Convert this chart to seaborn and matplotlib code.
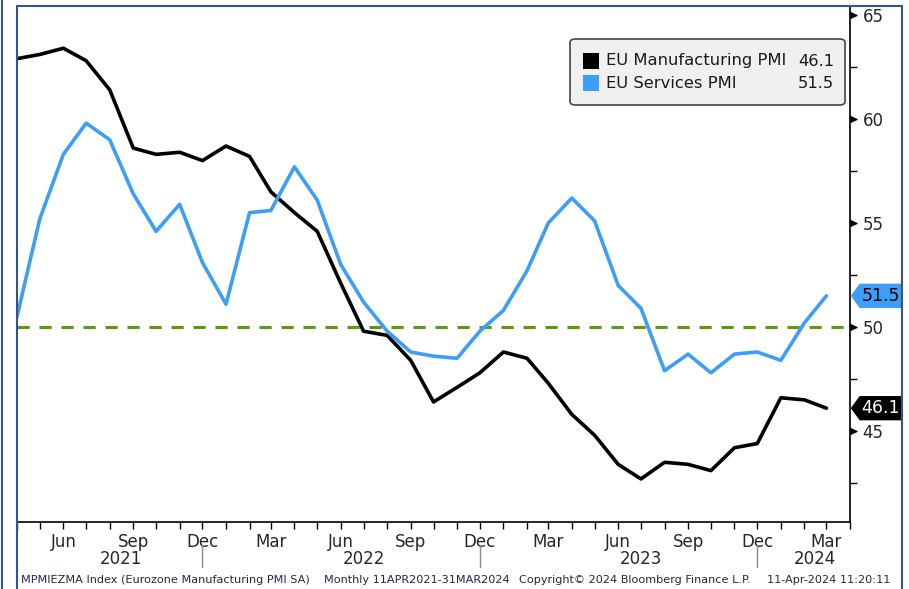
import numpy as np
import pandas as pd
import matplotlib.pyplot as plt
import seaborn as sns
from matplotlib.patches import FancyBboxPatch, Polygon, Rectangle
from matplotlib.lines import Line2D
import matplotlib.transforms as mtransforms

months = pd.date_range('2021-04-01', periods=36, freq='MS')
manufacturing = [62.9, 63.1, 63.4, 62.8, 61.4, 58.6, 58.3, 58.4, 58.0, 58.7, 58.2, 56.5,
                 55.5, 54.6, 52.1, 49.8, 49.6, 48.4, 46.4, 47.1, 47.8, 48.8, 48.5, 47.3,
                 45.8, 44.8, 43.4, 42.7, 43.5, 43.4, 43.1, 44.2, 44.4, 46.6, 46.5, 46.1]
services = [50.5, 55.2, 58.3, 59.8, 59.0, 56.4, 54.6, 55.9, 53.1, 51.1, 55.5, 55.6,
            57.7, 56.1, 53.0, 51.2, 49.8, 48.8, 48.6, 48.5, 49.8, 50.8, 52.7, 55.0,
            56.2, 55.1, 52.0, 50.9, 47.9, 48.7, 47.8, 48.7, 48.8, 48.4, 50.2, 51.5]
series_names = ['EU Manufacturing PMI', 'EU Services PMI']
last_values = ['46.1', '51.5']
colors = ['#000000', '#3d9ef7']
year_labels = ['2021', '2022', '2023', '2024']
year_centers = ['2021-08-16', '2022-07-01', '2023-07-01', '2024-02-15']
year_breaks = ['2021-12-01', '2022-12-01', '2023-12-01']

df = pd.DataFrame({'date': list(months) * 2,
                   'value': manufacturing + services,
                   'series': [series_names[0]] * 36 + [series_names[1]] * 36})

sns.set_style('white')
plt.rcParams['font.family'] = ['DejaVu Sans']

fig = plt.figure(figsize=(9.09, 5.89), dpi=100)
ax = fig.add_axes([17 / 909, 1 - 522 / 589, 833 / 909, 516 / 589])

sns.lineplot(data=df, x='date', y='value', hue='series', palette=colors,
             linewidth=2.6, ax=ax, legend=False)
ax.axhline(50, color='#5c9a0a', linestyle=(0, (4, 3.2)), linewidth=2.2, zorder=1)

ax.set_xlim(pd.Timestamp('2021-04-01'), pd.Timestamp('2024-04-01'))
ax.set_ylim(40.63, 65.43)
ax.set_xlabel('')
ax.set_ylabel('')

# right-hand y axis
ax.yaxis.tick_right()
ax.set_yticks([45, 50, 55, 60, 65])
ax.set_yticks([42.5, 47.5, 52.5, 57.5, 62.5], minor=True)
ax.tick_params(axis='y', which='both', direction='out', length=5, width=1,
               color='black', labelsize=12, pad=4, right=True, left=False)
trans_y = mtransforms.blended_transform_factory(ax.transAxes, ax.transData)
for v in [45, 50, 55, 60, 65]:
    ax.plot([1.004], [v], marker='>', markersize=5, color='black',
            transform=trans_y, clip_on=False)

# bottom month axis
month_ticks = list(months) + [pd.Timestamp('2024-04-01')]
ax.set_xticks(month_ticks)
labels = []
for m in month_ticks:
    labels.append(m.strftime('%b') if m.month in (3, 6, 9, 12) and m < pd.Timestamp('2024-04-01') else '')
ax.set_xticklabels(labels)
ax.tick_params(axis='x', direction='out', length=5, width=1, color='black',
               labelsize=12, pad=3, bottom=True)

trans_x = mtransforms.blended_transform_factory(ax.transData, ax.transAxes)
for lab, c in zip(year_labels, year_centers):
    ax.text(pd.Timestamp(c), -0.072, lab, transform=trans_x, ha='center', va='center',
            fontsize=12, clip_on=False)
for b in year_breaks:
    ax.plot([pd.Timestamp(b)] * 2, [-0.044, -0.088], color='#888888', linewidth=1,
            transform=trans_x, clip_on=False)

for side in ['top', 'left']:
    ax.spines[side].set_visible(False)
for side in ['bottom', 'right']:
    ax.spines[side].set_color('black')
    ax.spines[side].set_linewidth(1.2)

# value tags on right axis
for val, col, txtcol in [(float(last_values[1]), colors[1], 'black'),
                         (float(last_values[0]), colors[0], 'white')]:
    h = 0.55
    poly = Polygon([(1.002, val), (1.012, val + h), (1.062, val + h),
                    (1.062, val - h), (1.012, val - h)], closed=True,
                   facecolor=col, edgecolor=col, transform=trans_y, clip_on=False)
    ax.add_patch(poly)
    ax.text(1.037, val, '%.1f' % val, transform=trans_y, ha='center', va='center',
            fontsize=12.5, color=txtcol, clip_on=False)

# legend box
box = FancyBboxPatch((570 / 909, 1 - 105 / 589), 275 / 909, 66 / 589,
                     boxstyle='round,pad=0,rounding_size=0.006',
                     transform=fig.transFigure, facecolor='#f0f0f0',
                     edgecolor='#444444', linewidth=1.2, zorder=5)
fig.patches.append(box)
for i, (name, val, col) in enumerate(zip(series_names, last_values, colors)):
    yc = 1 - (61 + i * 22) / 589
    fig.patches.append(Rectangle((583 / 909, yc - 8 / 589), 16 / 909, 16 / 589,
                                 transform=fig.transFigure, facecolor=col,
                                 edgecolor='none', zorder=6))
    fig.text(606 / 909, yc, name, ha='left', va='center', fontsize=11.8,
             color='#1a1a1a', zorder=7)
    fig.text(834 / 909, yc, val, ha='right', va='center', fontsize=11.8,
             color='#1a1a1a', zorder=7)

# outer frame
frame_col = '#34558a'
fig.lines.append(Line2D([17 / 909, 902 / 909], [1 - 6 / 589] * 2, color=frame_col,
                        linewidth=1.5, transform=fig.transFigure))
fig.lines.append(Line2D([17 / 909] * 2, [0, 1 - 6 / 589], color=frame_col,
                        linewidth=1.5, transform=fig.transFigure))
fig.lines.append(Line2D([902 / 909] * 2, [0, 1 - 6 / 589], color=frame_col,
                        linewidth=1.5, transform=fig.transFigure))
fig.lines.append(Line2D([2 / 909] * 2, [0, 1], color=frame_col,
                        linewidth=1.5, transform=fig.transFigure))

# footer
footer = [(21, 'MPMIEZMA Index (Eurozone Manufacturing PMI SA)'),
          (324, 'Monthly 11APR2021-31MAR2024'),
          (519, 'Copyright\u00a9 2024 Bloomberg Finance L.P.'),
          (767, '11-Apr-2024 11:20:11')]
for x, t in footer:
    fig.text(x / 909, 1 - 580 / 589, t, ha='left', va='center', fontsize=8.1,
             color='#1c2a40')

fig.savefig('out.png', dpi=100)
